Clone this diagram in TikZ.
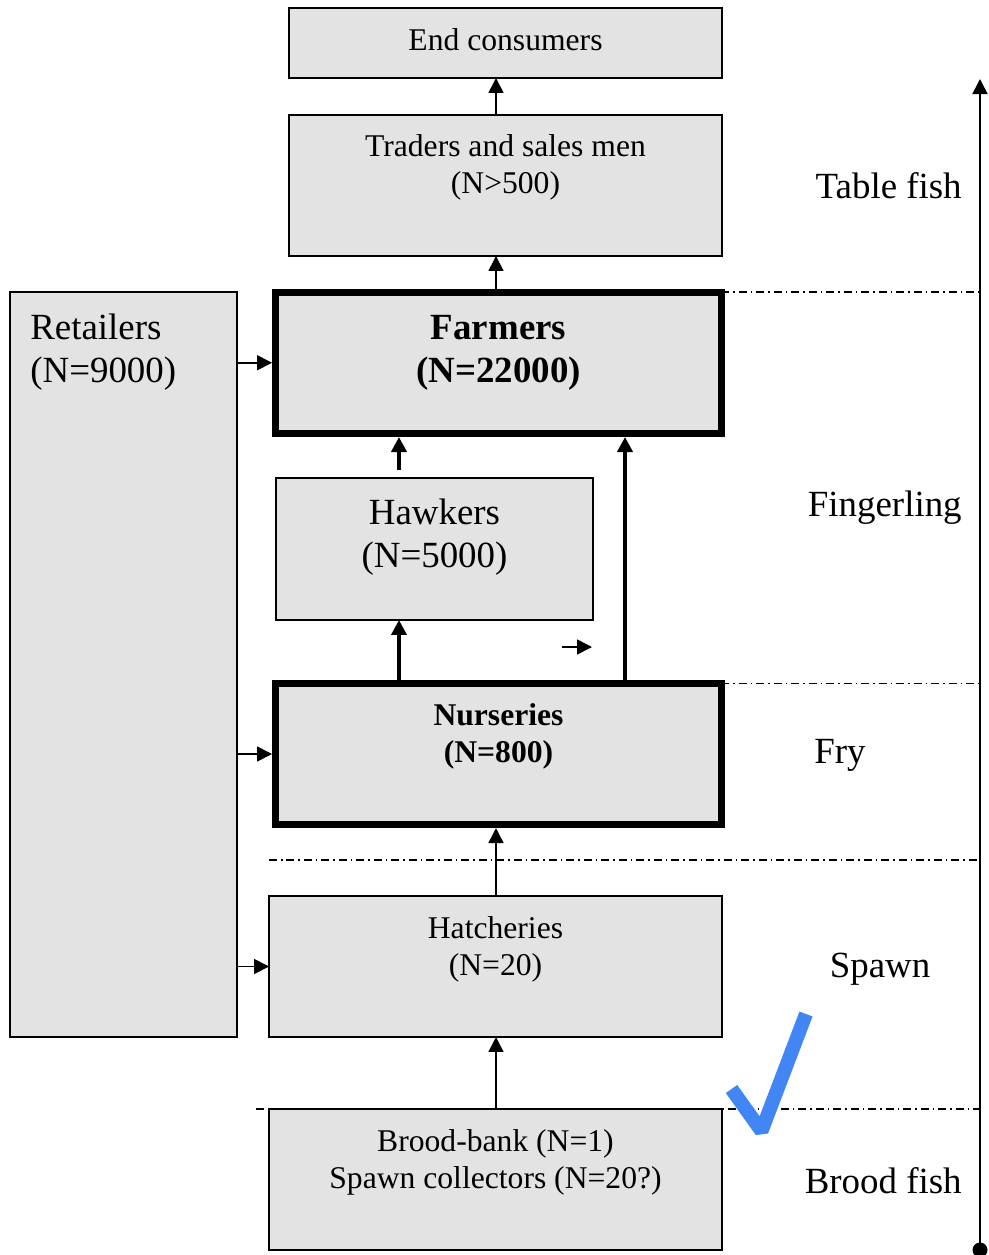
\documentclass[tikz,border=0pt]{standalone}
\usepackage{fontspec}
\setmainfont{Liberation Serif}
\usetikzlibrary{arrows.meta,positioning,calc}
\definecolor{boxgrey}{HTML}{E3E3E3}
\definecolor{tickblue}{HTML}{4285F4}

\begin{document}
\begin{tikzpicture}[x=0.02cm,y=-0.02cm]
    \tikzstyle{stage}=[draw=black,fill=boxgrey,line width=1pt,inner sep=0pt,outer sep=0pt]
    \tikzstyle{keystage}=[stage,line width=4pt]
    \tikzstyle{txt}=[align=center,font=\fontsize{18}{21}\selectfont,inner sep=0pt]
    \tikzstyle{bigtxt}=[align=center,font=\fontsize{21}{24.5}\selectfont,inner sep=0pt]
    \tikzstyle{flow}=[-{Triangle[length=0.3cm,width=0.3cm]},line width=0.9pt]
    \tikzstyle{bigflow}=[flow,line width=2.3pt]
    \tikzstyle{intokey}=[shorten >=2pt]
    \tikzstyle{border}=[line width=0.9pt,dash pattern=on 0.16cm off 0.08cm on 0.03cm off 0.08cm]
    \useasboundingbox (0,0) rectangle (989,1255);

    % boxes
    \node[stage,minimum width=8.66cm,minimum height=1.4cm] (cons) at (505.5,43) {};
    \node[stage,minimum width=8.66cm,minimum height=2.82cm] (traders) at (505.5,185.5) {};
    \node[stage,minimum width=4.54cm,minimum height=14.9cm] (retail) at (123.5,664.5) {};
    \node[keystage,minimum width=8.92cm,minimum height=2.83cm] (farm) at (498.5,362.75) {};
    \node[stage,minimum width=6.34cm,minimum height=2.84cm] (hawk) at (434.5,549) {};
    \node[keystage,minimum width=8.92cm,minimum height=2.82cm] (nurs) at (498.5,754) {};
    \node[stage,minimum width=9.06cm,minimum height=2.82cm] (hatch) at (495.5,966.5) {};
    \node[stage,minimum width=9.06cm,minimum height=2.82cm] (brood) at (495.5,1179.5) {};

    % box texts
    \node[txt] (consT) at (505.5,40) {End consumers};
    \node[txt] (tradersT) at (505.5,167) {Traders and sales men\\(N>500)};
    \node[bigtxt,anchor=west,align=left] (retailT) at (30,352) {Retailers\\(N=9000)};
    \node[bigtxt,font=\fontsize{21}{24.5}\selectfont\bfseries] (farmT) at (498.5,353) {Farmers\\(N=22000)};
    \node[bigtxt] (hawkT) at (434.5,537) {Hawkers\\(N=5000)};
    \node[txt,font=\fontsize{18}{21}\selectfont\bfseries] (nursT) at (498.5,736) {Nurseries\\(N=800)};
    \node[txt] (hatchT) at (495.5,949) {Hatcheries\\(N=20)};
    \node[txt] (broodT) at (495.5,1162) {Brood-bank (N=1)\\Spawn collectors (N=20?)};

    % stage labels
    \node[bigtxt,anchor=east] (tablefish) at (962,186) {Table fish};
    \node[bigtxt,anchor=east] (fingerling) at (962,508) {Fingerling};
    \node[bigtxt] (fry) at (840,755) {Fry};
    \node[bigtxt] (spawn) at (880,969) {Spawn};
    \node[bigtxt,anchor=east] (broodfish) at (962,1181) {Brood fish};

    % helper points
    \coordinate (spine) at (496,0);
    \coordinate (hf) at (399,470);
    \coordinate (nf) at (625,683);
    \coordinate (axbot) at (980,1250);
    \coordinate (axtop) at (980,79);
    \coordinate (fryline) at (269,860);
    \coordinate (broodline) at (256,1109);
    \coordinate (strayA) at (562,647);
    \coordinate (strayB) at (592,647);

    % flows
    \draw[flow] (traders.north -| spine) -- (cons.south -| spine);
    \draw[flow] (farm.north -| spine) -- (traders.south -| spine);
    \draw[bigflow,intokey] (hf) -- (hf |- farm.south);
    \draw[bigflow] (nurs.north -| hf) -- (hawk.south -| hf);
    \draw[bigflow,intokey] (nf) -- (nf |- farm.south);
    \draw[flow] (strayA) -- (strayB);
    \draw[flow,intokey,yshift=2.3pt] (retail.east |- farm.west) -- (farm.west);
    \draw[flow,intokey] (retail.east |- nurs.west) -- (nurs.west);
    \draw[flow] (retail.east |- hatch.west) -- (hatch.west);
    \draw[flow,intokey] (hatch.north -| spine) -- (nurs.south -| spine);
    \draw[flow] (brood.north -| spine) -- (hatch.south -| spine);

    % stage borders
    \draw[border] (farm.north east) -- (farm.north east -| axbot);
    \draw[border] (nurs.north east) -- (nurs.north east -| axbot);
    \draw[border] (fryline) -- (fryline -| axbot);
    \draw[border] (broodline) -- (broodline -| axbot);

    % axis
    \draw[flow] (axbot) -- (axtop);
    \fill (axbot) circle (0.15cm);

    % tick mark
    \draw[tickblue,line width=0.28cm,line join=bevel] (731.5,1089) -- (761.5,1131) -- (806,1014);
\end{tikzpicture}
\end{document}
